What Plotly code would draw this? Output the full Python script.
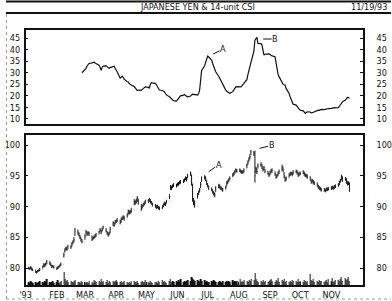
import pandas as pd
import plotly.graph_objects as go

# ---------------- data ----------------
CLOSE = [
    80.0, 79.9, 80.1, 79.8, 79.7,  79.4, 79.3, 79.5, 79.6, 79.8,
    80.2, 80.6, 80.4, 80.7, 81.0,  80.8, 80.5, 80.2, 80.3, 80.1,
    79.9, 80.0, 80.2, 80.4, 80.6,  82.1, 82.9, 83.2, 83.0, 83.5,
    83.4, 83.9, 84.2, 84.6, 86.2,  85.8, 85.4, 85.0, 84.6, 84.3,
    85.2, 85.9, 85.5, 85.7, 85.6,  84.6, 84.9, 85.0, 85.2, 85.4,
    85.9, 86.2, 85.8, 86.3, 86.7,  86.0, 85.7, 85.4, 85.6, 86.4,
    87.3, 87.0, 87.5, 87.6, 87.8,  87.4, 87.9, 88.1, 88.3, 88.0,
    88.6, 89.2, 89.0, 89.1, 89.4,  90.8, 90.6, 90.9, 91.3, 90.7,
    89.7, 90.0, 90.3, 90.5, 90.8,  90.9, 91.1, 90.8, 90.6, 90.3,
    90.1, 89.9, 90.0, 89.8, 89.7,  89.9, 90.2, 90.5, 90.4, 90.8,
    91.6, 93.2, 93.0, 93.3, 93.5,  93.4, 93.6, 93.7, 93.9, 94.0,
    94.1, 94.3, 94.6, 94.4, 95.0,  95.4, 93.8, 91.1, 90.6, 90.0,
    91.9, 92.3, 92.7, 93.6, 94.6,  94.8, 94.4, 93.8, 93.4, 93.0,
    92.8, 92.4, 92.1, 91.9, 93.0,  93.4, 93.2, 93.0, 92.9, 92.7,
    93.1, 93.8, 94.0, 94.3, 94.6,  95.1, 95.3, 95.6, 95.9, 95.8,
    95.9, 95.7, 95.6, 95.6, 95.9,  96.7, 97.2, 97.6, 98.1, 98.9,
    98.6, 95.0, 96.2, 95.7, 96.7,  96.9, 96.5, 96.0, 96.3, 95.7,
    95.4, 95.1, 95.5, 95.8, 95.9,  95.3, 94.8, 95.0, 95.4, 95.7,
    96.5, 95.9, 95.0, 94.3, 94.6,  95.1, 95.3, 95.4, 95.2, 95.6,
    95.7, 95.5, 95.1, 95.3, 95.4,  95.6, 95.3, 95.1, 95.0, 94.8,
    94.5, 94.0, 94.2, 93.9, 93.8,  93.5, 93.2, 93.0, 92.9, 92.7,
    92.7, 92.6, 92.8, 92.8, 92.9,  93.0, 93.1, 93.0, 93.2, 93.3,
    93.5, 93.9, 94.2, 94.8, 94.3,  94.5, 94.0, 93.7, 93.8, 92.7,
]
HIGH = [
    80.2, 80.1, 80.3, 80.1, 79.9,  79.7, 79.5, 79.7, 79.8, 80.0,
    80.4, 80.8, 80.7, 80.9, 81.3,  81.1, 80.8, 80.5, 80.5, 80.4,
    80.1, 80.3, 80.4, 80.6, 80.9,  82.5, 83.2, 83.5, 83.4, 83.8,
    83.7, 84.2, 84.5, 85.0, 86.5,  86.2, 85.8, 85.4, 85.0, 84.7,
    85.5, 86.2, 85.9, 86.0, 85.9,  85.3, 85.1, 85.3, 85.5, 85.7,
    86.1, 86.5, 86.2, 86.6, 86.9,  86.5, 86.0, 85.8, 85.9, 86.7,
    87.6, 87.4, 87.8, 87.9, 88.1,  87.8, 88.2, 88.4, 88.6, 88.4,
    88.9, 89.5, 89.4, 89.4, 89.8,  91.2, 91.0, 91.3, 91.7, 91.2,
    90.4, 90.3, 90.6, 90.8, 91.1,  91.2, 91.4, 91.2, 90.9, 90.6,
    90.4, 90.2, 90.3, 90.1, 90.0,  90.2, 90.5, 90.8, 90.7, 91.1,
    92.0, 93.5, 93.4, 93.6, 93.8,  93.7, 93.9, 94.0, 94.2, 94.3,
    94.4, 94.6, 94.9, 94.8, 95.3,  95.7, 95.2, 93.7, 91.4, 91.0,
    92.2, 92.6, 93.0, 94.0, 94.9,  95.1, 94.9, 94.3, 93.8, 93.4,
    93.1, 92.8, 92.5, 92.3, 93.3,  93.7, 93.6, 93.3, 93.2, 93.0,
    93.4, 94.1, 94.3, 94.6, 94.9,  95.4, 95.6, 95.9, 96.2, 96.1,
    96.2, 96.0, 95.9, 95.9, 96.2,  97.0, 97.5, 98.0, 98.5, 99.2,
    99.0, 99.1, 96.5, 96.2, 97.0,  97.2, 96.9, 96.4, 96.6, 96.1,
    95.8, 95.4, 95.8, 96.1, 96.2,  95.7, 95.2, 95.3, 95.7, 96.0,
    96.8, 96.4, 95.6, 94.8, 94.9,  95.4, 95.6, 95.7, 95.6, 95.9,
    96.0, 95.9, 95.5, 95.6, 95.7,  95.9, 95.7, 95.4, 95.3, 95.2,
    94.9, 94.4, 94.5, 94.3, 94.1,  93.9, 93.5, 93.3, 93.2, 93.0,
    93.0, 92.9, 93.1, 93.1, 93.2,  93.3, 93.4, 93.3, 93.5, 93.6,
    93.8, 94.2, 94.5, 95.2, 94.9,  94.8, 94.6, 94.1, 94.1, 93.9,
]
LOW = [
    79.8, 79.7, 79.8, 79.6, 79.5,  79.2, 79.1, 79.3, 79.4, 79.5,
    79.9, 80.2, 80.1, 80.4, 80.6,  80.5, 80.3, 80.0, 80.1, 79.9,
    79.7, 79.8, 80.0, 80.2, 80.3,  81.7, 82.5, 82.9, 82.8, 83.1,
    83.1, 83.5, 83.9, 84.2, 85.2,  85.4, 85.1, 84.7, 84.3, 84.0,
    84.6, 85.5, 85.2, 85.4, 85.2,  84.4, 84.6, 84.7, 84.9, 85.1,
    85.5, 85.9, 85.5, 85.9, 86.3,  85.8, 85.4, 85.1, 85.3, 85.7,
    86.8, 86.7, 87.1, 87.3, 87.5,  87.1, 87.4, 87.8, 87.9, 87.7,
    88.2, 88.7, 88.7, 88.8, 89.0,  90.2, 90.3, 90.5, 90.8, 90.3,
    89.3, 89.7, 90.0, 90.2, 90.5,  90.6, 90.8, 90.5, 90.3, 90.0,
    89.8, 89.6, 89.7, 89.5, 89.4,  89.6, 89.9, 90.2, 90.1, 90.5,
    91.2, 92.7, 92.7, 93.0, 93.2,  93.1, 93.3, 93.4, 93.6, 93.7,
    93.8, 94.0, 94.3, 94.1, 94.6,  95.0, 93.4, 90.8, 90.2, 89.8,
    91.3, 91.9, 92.3, 93.0, 94.0,  94.4, 94.1, 93.5, 93.1, 92.7,
    92.5, 92.1, 91.8, 91.5, 92.4,  93.0, 92.9, 92.7, 92.6, 92.4,
    92.8, 93.3, 93.7, 94.0, 94.3,  94.8, 95.0, 95.3, 95.6, 95.5,
    95.6, 95.4, 95.3, 95.3, 95.5,  96.2, 96.8, 97.3, 97.7, 98.4,
    98.2, 93.9, 95.4, 95.3, 96.2,  96.5, 96.1, 95.7, 95.9, 95.4,
    95.1, 94.8, 95.1, 95.4, 95.5,  95.0, 94.5, 94.7, 95.0, 95.3,
    95.8, 95.6, 94.6, 94.0, 94.2,  94.7, 95.0, 95.1, 94.9, 95.2,
    95.4, 95.2, 94.8, 95.0, 95.1,  95.3, 95.0, 94.8, 94.7, 94.5,
    94.2, 93.7, 93.9, 93.6, 93.5,  93.2, 92.9, 92.7, 92.6, 92.4,
    92.4, 92.3, 92.5, 92.5, 92.6,  92.7, 92.8, 92.7, 92.9, 93.0,
    93.2, 93.5, 93.9, 94.3, 94.0,  94.2, 93.7, 93.4, 93.5, 92.4,
]
VOLUME = [
    3, 2, 4, 3, 2,  3, 2, 2, 3, 4,  3, 2, 4, 3, 6,  3, 2, 3, 4, 2,
    3, 5, 2, 3, 4,  13, 6, 4, 5, 3,  4, 3, 3, 4, 5,  3, 3, 2, 4, 3,
    2, 3, 3, 2, 4,  3, 2, 5, 4, 3,  4, 3, 6, 3, 4,  3, 5, 2, 4, 3,
    4, 3, 4, 5, 3,  3, 4, 2, 3, 4,  3, 2, 3, 2, 4,  4, 3, 3, 4, 2,
    3, 4, 3, 3, 5,  3, 2, 4, 3, 2,  3, 3, 2, 4, 3,  5, 3, 4, 3, 2,
    4, 6, 3, 4, 3,  4, 3, 5, 3, 6,  3, 4, 3, 4, 5,  4, 8, 6, 5, 4,
    5, 4, 3, 6, 4,  5, 3, 4, 3, 3,  4, 3, 5, 4, 3,  3, 4, 3, 2, 4,
    3, 4, 3, 4, 3,  5, 3, 4, 3, 4,  6, 3, 4, 3, 5,  4, 3, 5, 4, 6,
    5, 12, 6, 4, 3,  4, 3, 5, 3, 4,  3, 4, 5, 6, 4,  3, 5, 4, 7, 3,
    5, 4, 6, 3, 4,  3, 4, 3, 5, 4,  4, 3, 6, 3, 4,  3, 5, 4, 3, 4,
    11, 5, 4, 6, 3,  4, 3, 5, 4, 4,  3, 4, 5, 3, 6,  4, 7, 3, 4, 5,
    5, 4, 6, 8, 4,  7, 5, 6, 8, 4,
]
CSI = [
    30.0,
    31.2, 31.9, 32.8, 33.5, 34.0,  34.3, 34.5, 34.6, 34.2, 33.9,
    33.3, 32.4, 31.1, 32.2, 32.9,  33.0, 32.5, 32.1, 31.9, 32.2,
    32.6, 32.8, 31.9, 31.2, 30.4,  27.6, 28.3, 28.5, 28.0, 27.2,
    26.1, 26.0, 25.3, 24.9, 24.7,  24.0, 23.4, 22.5, 22.3, 22.5,
    22.4, 22.8, 23.3, 23.6, 23.9,  23.7, 23.2, 25.0, 25.7, 25.6,
    25.4, 24.8, 23.9, 23.0, 22.5,  22.3, 22.0, 21.8, 21.0, 20.4,
    19.6, 19.2, 18.6, 18.2, 17.9,  17.7, 18.3, 19.0, 19.6, 20.0,
    20.3, 20.6, 20.1, 19.8, 19.6,  19.9, 20.3, 20.8, 20.5, 20.6,
    20.3, 21.0, 22.5, 27.5, 31.0,  33.0, 34.5, 36.2, 37.2, 36.8,
    35.5, 34.0, 32.6, 31.2, 30.4,  28.5, 27.6, 26.5, 25.4, 24.7,
    22.5, 22.0, 21.6, 21.3, 21.1,  21.8, 22.6, 23.3, 23.9, 24.0,
    23.9, 23.9, 24.3, 24.9, 25.4,  27.0, 29.2, 31.1, 32.6, 34.0,
    39.5, 44.1, 45.0, 45.3, 42.7,  42.6, 42.0, 40.1, 37.6, 38.0,
    38.4, 38.2, 37.9, 37.6, 37.3,  36.9, 34.2, 31.5, 29.4, 28.3,
    25.4, 25.0, 24.8, 24.7, 23.2,  21.0, 19.6, 18.5, 17.2, 16.4,
    16.0, 15.3, 14.6, 14.2, 13.8,  13.5, 13.0, 12.4, 12.8, 13.1,
    13.0, 12.6, 12.7, 12.9, 13.2,  13.5, 13.8, 13.7, 13.9, 14.1,
    14.0, 14.2, 14.3, 14.4, 14.5,  14.6, 14.8, 14.9, 14.9, 14.8,
    14.9, 15.5, 16.2, 16.9, 17.4,  18.2, 18.8, 19.3, 19.2, 18.9,
]
MONTH_TICKS = ["1993-01-01", "1993-02-01", "1993-03-01", "1993-04-01", "1993-05-01",
               "1993-06-01", "1993-07-01", "1993-08-01", "1993-09-01", "1993-10-01",
               "1993-11-01"]
MONTH_LABELS = ["'93", "FEB", "MAR", "APR", "MAY", "JUN", "JUL", "AUG", "SEP", "OCT", "NOV"]
PRICE_TICKS = [80, 85, 90, 95, 100]
CSI_TICKS = [10, 15, 20, 25, 30, 35, 40, 45]
TITLE = "JAPANESE YEN & 14-unit CSI"
DATE_TEXT = "11/19/93"

# ---------------- build ----------------
price_dates = pd.bdate_range("1993-01-04", "1993-11-19")
n = min(len(price_dates), len(CLOSE), len(HIGH), len(LOW))
price_dates = price_dates[:n]
close = CLOSE[:n]
high = HIGH[:n]
low = LOW[:n]
open_ = [close[0]] + close[:-1]
vol_n = min(n, len(VOLUME))

csi_dates = pd.bdate_range("1993-02-26", "1993-11-19")
m = min(len(csi_dates), len(CSI))

W, H = 392, 301
def px_x(p):
    return p / W
def px_y(p):
    return 1 - p / H

FONT = "Liberation Sans Narrow, DejaVu Sans Condensed, Liberation Sans, sans-serif"
BLACK = "#111111"

fig = go.Figure()
fig.add_trace(go.Ohlc(
    x=price_dates, open=open_, high=high, low=low, close=close,
    xaxis="x", yaxis="y",
    increasing=dict(line=dict(color=BLACK, width=1)),
    decreasing=dict(line=dict(color=BLACK, width=1)),
    tickwidth=0.3, showlegend=False, hoverinfo="skip",
))
fig.add_trace(go.Bar(
    x=price_dates[:vol_n], y=VOLUME[:vol_n], xaxis="x", yaxis="y3",
    marker=dict(color=BLACK, line=dict(width=0)), width=0.38 * 86400000,
    showlegend=False, hoverinfo="skip",
))
fig.add_trace(go.Scatter(
    x=csi_dates[:m], y=CSI[:m], xaxis="x2", yaxis="y2", mode="lines",
    line=dict(color=BLACK, width=1.2), showlegend=False, hoverinfo="skip",
))
# invisible traces so the right-hand label axes are drawn
fig.add_trace(go.Scatter(x=csi_dates[:m], y=CSI[:m], xaxis="x2", yaxis="y5",
                         mode="lines", line=dict(width=0), opacity=0,
                         showlegend=False, hoverinfo="skip"))
fig.add_trace(go.Scatter(x=price_dates, y=close, xaxis="x", yaxis="y4",
                         mode="lines", line=dict(width=0), opacity=0,
                         showlegend=False, hoverinfo="skip"))

xr = ["1993-01-01", "1993-12-02"]
xdom = [px_x(20), px_x(363)]
lower_dom = [px_y(285), px_y(135)]
upper_dom = [px_y(124), px_y(30)]
prange = [77.24, 101.63]
crange = [7.8, 48.5]
tickfont = dict(family=FONT, size=9, color=BLACK)

fig.update_layout(
    width=W, height=H, autosize=False,
    margin=dict(l=0, r=0, t=0, b=0, pad=0),
    paper_bgcolor="white", plot_bgcolor="white",
    showlegend=False,
    xaxis=dict(domain=xdom, anchor="y", range=xr, type="date",
               tickvals=MONTH_TICKS, ticktext=MONTH_LABELS, tickfont=tickfont,
               ticks="inside", ticklen=3, tickcolor=BLACK,
               showline=True, linecolor=BLACK, linewidth=1.5, mirror=True,
               showgrid=False, zeroline=False, rangeslider=dict(visible=False),
               fixedrange=True),
    yaxis=dict(domain=lower_dom, anchor="x", range=prange, tickvals=PRICE_TICKS,
               tickfont=tickfont, ticks="inside", ticklen=3, tickcolor=BLACK,
               showline=True, linecolor=BLACK, linewidth=1.5, mirror="ticks",
               showgrid=False, zeroline=False, ticklabelstandoff=2),
    yaxis3=dict(overlaying="y", range=[0, 150], visible=False),
    yaxis4=dict(overlaying="y", side="right", anchor="x", range=prange,
                tickvals=PRICE_TICKS, tickfont=tickfont, ticks="",
                showline=False, showgrid=False, zeroline=False,
                ticklabelstandoff=13),
    xaxis2=dict(domain=xdom, anchor="y2", range=xr, type="date", matches="x",
                showticklabels=False, ticks="", showline=True, linecolor=BLACK,
                linewidth=1.5, mirror=True, showgrid=False, zeroline=False),
    yaxis2=dict(domain=upper_dom, anchor="x2", range=crange, tickvals=CSI_TICKS,
                tickfont=tickfont, ticks="inside", ticklen=3, tickcolor=BLACK,
                showline=True, linecolor=BLACK, linewidth=1.5, mirror="ticks",
                showgrid=False, zeroline=False, ticklabelstandoff=2),
    yaxis5=dict(overlaying="y2", side="right", anchor="x2", range=crange,
                tickvals=CSI_TICKS, tickfont=tickfont, ticks="",
                showline=False, showgrid=False, zeroline=False,
                ticklabelstandoff=13),
)

# header rules and decorative scan borders
fig.add_shape(type="line", xref="paper", yref="paper", x0=0, x1=1,
              y0=px_y(1.5), y1=px_y(1.5), line=dict(color=BLACK, width=2))
fig.add_shape(type="line", xref="paper", yref="paper", x0=0, x1=1,
              y0=px_y(13), y1=px_y(13), line=dict(color=BLACK, width=2))
fig.add_shape(type="line", xref="paper", yref="paper", x0=px_x(0.5), x1=px_x(0.5),
              y0=px_y(14), y1=px_y(301), line=dict(color="#999999", width=1, dash="dot"))
fig.add_shape(type="line", xref="paper", yref="paper", x0=0, x1=1,
              y0=px_y(299), y1=px_y(299), line=dict(color="#999999", width=1, dash="dot"))

fig.add_annotation(text=TITLE, xref="paper", yref="paper", x=px_x(195), y=px_y(7.5),
                   showarrow=False, font=dict(family=FONT, size=9, color=BLACK),
                   xanchor="center", yanchor="middle")
fig.add_annotation(text=DATE_TEXT, xref="paper", yref="paper", x=px_x(390), y=px_y(7.5),
                   showarrow=False, font=dict(family=FONT, size=9, color=BLACK),
                   xanchor="right", yanchor="middle")

ann_font = dict(family=FONT, size=9, color=BLACK)
for txt, xa, ya, xv, yv, ax, ay in [
    ("A", "x2", "y2", "1993-07-06 12:00", 38.1, 10, -5),
    ("B", "x2", "y2", "1993-08-25 06:00", 44.6, 12, 0),
    ("A", "x", "y", "1993-07-02", 95.66, 10, -7),
    ("B", "x", "y", "1993-08-21 16:00", 99.46, 12, -3),
]:
    fig.add_annotation(text=txt, xref=xa, yref=ya, x=xv, y=yv, showarrow=True,
                       arrowhead=0, arrowwidth=1, arrowcolor=BLACK, ax=ax, ay=ay,
                       standoff=0, borderpad=0, font=ann_font)

fig.write_html("out.html")
